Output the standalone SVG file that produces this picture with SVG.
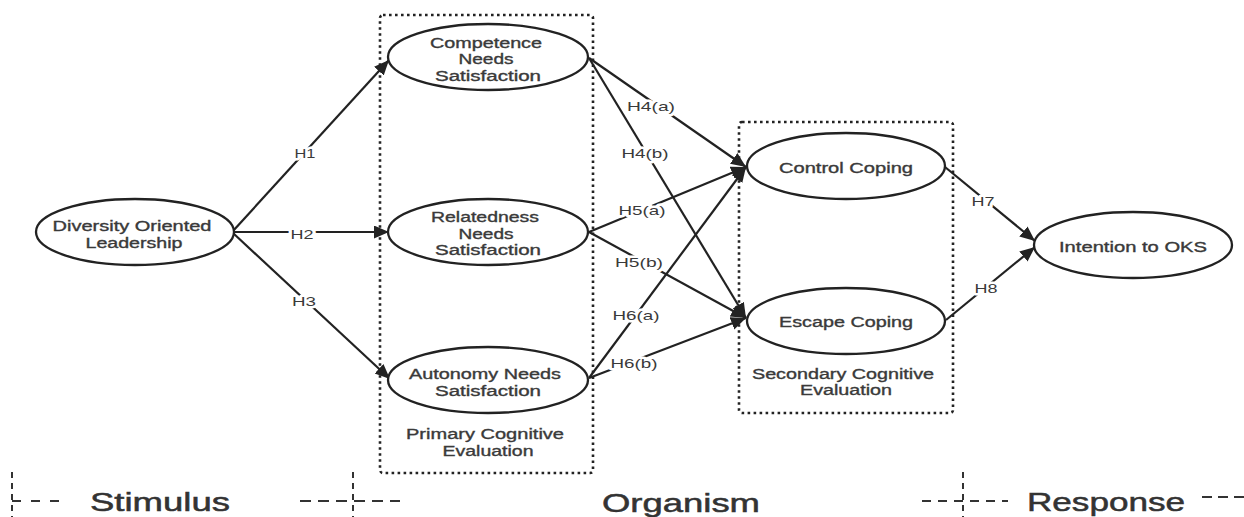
<svg xmlns="http://www.w3.org/2000/svg" width="1244" height="517" viewBox="0 0 1244 517">
<style>
.node ellipse{fill:#fff;stroke:#222;stroke-width:2.3}
.t{font-family:"Liberation Sans",Arial,sans-serif;font-size:14px;fill:#3a3a3a;stroke:#3a3a3a;stroke-width:0.35px;text-anchor:middle}
.lbl{font-family:"Liberation Sans",Arial,sans-serif;font-size:13.5px;fill:#3a3a3a;text-anchor:middle;stroke:#fff;stroke-width:5px;paint-order:stroke;stroke-linejoin:round}
.big{font-family:"Liberation Sans",Arial,sans-serif;font-size:25px;fill:#333;stroke:#333;stroke-width:0.5px;text-anchor:middle}
.box{fill:none;stroke:#222;stroke-width:2.6;stroke-dasharray:2.6 3.4}
.edge{stroke:#222;stroke-width:2.2;fill:none;marker-end:url(#ah)}
.sep{stroke:#333;stroke-width:2;fill:none}
</style>
<defs>
<marker id="ah" markerUnits="userSpaceOnUse" markerWidth="17" markerHeight="14" refX="15" refY="6.5" orient="auto">
<path d="M0,0 L15,6.5 L0,13 z" fill="#222"/>
</marker>
</defs>
<rect width="1244" height="517" fill="#fff"/>

<g id="boxes">
<rect class="box" x="380" y="15" width="213" height="458" rx="3"/>
<rect class="box" x="739" y="122" width="214" height="291" rx="3"/>
<text class="t" x="485" y="439" textLength="158" lengthAdjust="spacingAndGlyphs">Primary Cognitive</text>
<text class="t" x="488" y="456" textLength="91" lengthAdjust="spacingAndGlyphs">Evaluation</text>
<text class="t" x="843" y="379" textLength="182" lengthAdjust="spacingAndGlyphs">Secondary Cognitive</text>
<text class="t" x="846" y="395" textLength="92" lengthAdjust="spacingAndGlyphs">Evaluation</text>
</g>

<g id="connectors">
<line class="edge" x1="233" y1="231" x2="389" y2="60"/>
<line class="edge" x1="233" y1="232" x2="389" y2="232"/>
<line class="edge" x1="233" y1="233" x2="390" y2="379"/>
<line class="edge" x1="589" y1="58" x2="746" y2="167"/>
<line class="edge" x1="589" y1="58" x2="746" y2="318"/>
<line class="edge" x1="589" y1="232" x2="746" y2="167"/>
<line class="edge" x1="589" y1="232" x2="746" y2="318"/>
<line class="edge" x1="589" y1="378" x2="746" y2="167"/>
<line class="edge" x1="589" y1="378" x2="746" y2="318"/>
<line class="edge" x1="945" y1="167" x2="1035" y2="241"/>
<line class="edge" x1="946" y1="320" x2="1035" y2="247"/>
<text class="lbl" x="305" y="158" textLength="21" lengthAdjust="spacingAndGlyphs">H1</text>
<text class="lbl" x="302" y="239" textLength="23" lengthAdjust="spacingAndGlyphs">H2</text>
<text class="lbl" x="304" y="306" textLength="24" lengthAdjust="spacingAndGlyphs">H3</text>
<text class="lbl" x="651" y="111" textLength="48" lengthAdjust="spacingAndGlyphs">H4(a)</text>
<text class="lbl" x="645" y="158" textLength="47" lengthAdjust="spacingAndGlyphs">H4(b)</text>
<text class="lbl" x="642" y="215" textLength="47" lengthAdjust="spacingAndGlyphs">H5(a)</text>
<text class="lbl" x="639" y="267" textLength="48" lengthAdjust="spacingAndGlyphs">H5(b)</text>
<text class="lbl" x="636" y="320" textLength="47" lengthAdjust="spacingAndGlyphs">H6(a)</text>
<text class="lbl" x="634" y="368" textLength="47" lengthAdjust="spacingAndGlyphs">H6(b)</text>
<text class="lbl" x="983" y="206" textLength="23" lengthAdjust="spacingAndGlyphs">H7</text>
<text class="lbl" x="986" y="293" textLength="23" lengthAdjust="spacingAndGlyphs">H8</text>
</g>

<g id="diversity" class="node">
<ellipse cx="135" cy="232" rx="99" ry="33"/>
<text class="t" x="132" y="231" textLength="159" lengthAdjust="spacingAndGlyphs">Diversity Oriented</text>
<text class="t" x="134" y="248" textLength="97" lengthAdjust="spacingAndGlyphs">Leadership</text>
</g>
<g id="competence" class="node">
<ellipse cx="488" cy="57" rx="100" ry="33"/>
<text class="t" x="486" y="48" textLength="112" lengthAdjust="spacingAndGlyphs">Competence</text>
<text class="t" x="486" y="64" textLength="55" lengthAdjust="spacingAndGlyphs">Needs</text>
<text class="t" x="488" y="81" textLength="106" lengthAdjust="spacingAndGlyphs">Satisfaction</text>
</g>
<g id="relatedness" class="node">
<ellipse cx="488" cy="232" rx="100" ry="33"/>
<text class="t" x="485" y="222" textLength="108" lengthAdjust="spacingAndGlyphs">Relatedness</text>
<text class="t" x="486" y="239" textLength="55" lengthAdjust="spacingAndGlyphs">Needs</text>
<text class="t" x="488" y="255" textLength="106" lengthAdjust="spacingAndGlyphs">Satisfaction</text>
</g>
<g id="autonomy" class="node">
<ellipse cx="488" cy="380" rx="100" ry="33"/>
<text class="t" x="485" y="379" textLength="152" lengthAdjust="spacingAndGlyphs">Autonomy Needs</text>
<text class="t" x="488" y="396" textLength="106" lengthAdjust="spacingAndGlyphs">Satisfaction</text>
</g>
<g id="control" class="node">
<ellipse cx="846" cy="166" rx="99" ry="33"/>
<text class="t" x="846" y="173" textLength="134" lengthAdjust="spacingAndGlyphs">Control Coping</text>
</g>
<g id="escape" class="node">
<ellipse cx="846" cy="321" rx="99" ry="33"/>
<text class="t" x="846" y="327" textLength="134" lengthAdjust="spacingAndGlyphs">Escape Coping</text>
</g>
<g id="intention" class="node">
<ellipse cx="1133" cy="245" rx="99" ry="33"/>
<text class="t" x="1133" y="252" textLength="148" lengthAdjust="spacingAndGlyphs">Intention to OKS</text>
</g>

<g id="sor">
<line class="sep" x1="12" y1="472" x2="12" y2="517" stroke-dasharray="6 5"/>
<line class="sep" x1="12" y1="501" x2="60" y2="501" stroke-dasharray="9 10"/>
<line class="sep" x1="300" y1="501" x2="400" y2="501" stroke-dasharray="11 7"/>
<line class="sep" x1="353" y1="472" x2="353" y2="517" stroke-dasharray="6 5"/>
<line class="sep" x1="922" y1="501" x2="1008" y2="501" stroke-dasharray="9 7"/>
<line class="sep" x1="963" y1="472" x2="963" y2="517" stroke-dasharray="6 5"/>
<line class="sep" x1="1202" y1="497" x2="1244" y2="497" stroke-dasharray="10 6"/>
<text class="big" x="160" y="511" textLength="140" lengthAdjust="spacingAndGlyphs">Stimulus</text>
<text class="big" x="681" y="512" textLength="158" lengthAdjust="spacingAndGlyphs">Organism</text>
<text class="big" x="1106" y="511" textLength="158" lengthAdjust="spacingAndGlyphs">Response</text>
</g>
</svg>
